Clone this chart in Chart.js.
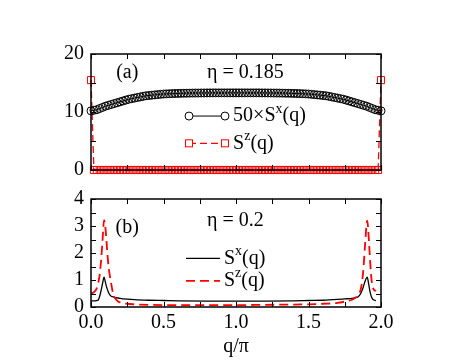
<!DOCTYPE html>
<html>
<head>
<meta charset="utf-8">
<script src="https://cdn.jsdelivr.net/npm/chart.js@4/dist/chart.umd.min.js"></script>
<style>
  body { margin: 0; background: #fff; }
  #wrap { position: relative; width: 469px; height: 362px; }
  canvas { position: absolute; left: 0; }
  #top { top: 0; }
  #bot { top: 180px; }
</style>
</head>
<body>
<div id="wrap">
  <canvas id="top" width="469" height="189"></canvas>
  <canvas id="bot" width="469" height="182"></canvas>
</div>
<script>
'use strict';
// panel (a): eta = 0.185
const qTop = [0, 0.02, 0.04, 0.06, 0.08, 0.1, 0.12, 0.14, 0.16, 0.18,
  0.2, 0.22, 0.24, 0.26, 0.28, 0.3, 0.32, 0.34, 0.36, 0.38,
  0.4, 0.42, 0.44, 0.46, 0.48, 0.5, 0.52, 0.54, 0.56, 0.58,
  0.6, 0.62, 0.64, 0.66, 0.68, 0.7, 0.72, 0.74, 0.76, 0.78,
  0.8, 0.82, 0.84, 0.86, 0.88, 0.9, 0.92, 0.94, 0.96, 0.98,
  1.0, 1.02, 1.04, 1.06, 1.08, 1.1, 1.12, 1.14, 1.16, 1.18,
  1.2, 1.22, 1.24, 1.26, 1.28, 1.3, 1.32, 1.34, 1.36, 1.38,
  1.4, 1.42, 1.44, 1.46, 1.48, 1.5, 1.52, 1.54, 1.56, 1.58,
  1.6, 1.62, 1.64, 1.66, 1.68, 1.7, 1.72, 1.74, 1.76, 1.78,
  1.8, 1.82, 1.84, 1.86, 1.88, 1.9, 1.92, 1.94, 1.96, 1.98, 2.0];
// 50 x S^x(q)
const sxTop = [10.2, 10.3, 10.4, 10.6, 10.8, 11.0, 11.15, 11.3, 11.45, 11.6,
  11.75, 11.9, 12.05, 12.2, 12.3, 12.4, 12.5, 12.6, 12.7, 12.8,
  12.85, 12.9, 12.95, 13.0, 13.05, 13.1, 13.12, 13.15, 13.17, 13.19,
  13.2, 13.22, 13.23, 13.24, 13.25, 13.26, 13.27, 13.27, 13.28, 13.28,
  13.29, 13.29, 13.3, 13.3, 13.3, 13.3, 13.3, 13.3, 13.3, 13.3,
  13.3, 13.3, 13.3, 13.3, 13.3, 13.3, 13.3, 13.3, 13.3, 13.29,
  13.29, 13.28, 13.28, 13.27, 13.27, 13.26, 13.25, 13.24, 13.23, 13.22,
  13.2, 13.19, 13.17, 13.15, 13.12, 13.1, 13.05, 13.0, 12.95, 12.9,
  12.85, 12.8, 12.7, 12.6, 12.5, 12.4, 12.3, 12.2, 12.05, 11.9,
  11.75, 11.6, 11.45, 11.3, 11.15, 11.0, 10.8, 10.6, 10.4, 10.3, 10.2];
// S^z(q)
const szTop = [15.5, 0, 0, 0, 0, 0, 0, 0, 0, 0,
  0, 0, 0, 0, 0, 0, 0, 0, 0, 0,
  0, 0, 0, 0, 0, 0, 0, 0, 0, 0,
  0, 0, 0, 0, 0, 0, 0, 0, 0, 0,
  0, 0, 0, 0, 0, 0, 0, 0, 0, 0,
  0, 0, 0, 0, 0, 0, 0, 0, 0, 0,
  0, 0, 0, 0, 0, 0, 0, 0, 0, 0,
  0, 0, 0, 0, 0, 0, 0, 0, 0, 0,
  0, 0, 0, 0, 0, 0, 0, 0, 0, 0,
  0, 0, 0, 0, 0, 0, 0, 0, 0, 0, 15.5];

// panel (b): eta = 0.2
const qBot = [0, 0.02, 0.03, 0.04, 0.05, 0.06, 0.07, 0.08, 0.09, 0.1,
  0.11, 0.12, 0.13, 0.14, 0.15, 0.16, 0.18, 0.2, 0.25, 0.3,
  0.4, 0.5, 0.6, 0.8, 1.0, 1.2, 1.4, 1.5, 1.6, 1.7,
  1.75, 1.8, 1.82, 1.84, 1.85, 1.86, 1.87, 1.88, 1.89, 1.905,
  1.915, 1.925, 1.935, 1.945, 1.965];
const sxBot = [0.22, 0.23, 0.23, 0.24, 0.26, 0.4, 0.62, 0.88, 1.11, 0.9,
  0.7, 0.55, 0.45, 0.4, 0.38, 0.36, 0.34, 0.32, 0.29, 0.27,
  0.25, 0.24, 0.23, 0.22, 0.22, 0.22, 0.23, 0.24, 0.25, 0.28,
  0.3, 0.32, 0.34, 0.37, 0.42, 0.5, 0.62, 0.78, 0.95, 1.11,
  0.85, 0.55, 0.36, 0.28, 0.24];
const szBot = [0.5, 0.55, 0.6, 0.7, 0.9, 1.2, 1.75, 2.5, 3.22, 2.9,
  2.2, 1.55, 1.15, 0.85, 0.55, 0.38, 0.24, 0.17, 0.12, 0.1,
  0.08, 0.07, 0.07, 0.07, 0.07, 0.08, 0.09, 0.1, 0.12, 0.15,
  0.2, 0.27, 0.33, 0.42, 0.5, 0.65, 0.95, 1.5, 2.3, 3.2,
  2.6, 1.7, 1.0, 0.7, 0.59];

const xTicks = [0, 0.25, 0.5, 0.75, 1, 1.25, 1.5, 1.75, 2];
const yTicksTop = [0, 5, 10, 15, 20];
const yTicksBot = [0, 0.5, 1, 1.5, 2, 2.5, 3, 3.5, 4];

const FONT = 'Liberation Serif';
const RED = '#ff0000';

function pts(xs, ys) {
  return xs.map((x, i) => ({ x: x, y: ys[i] }));
}

// text with superscript pieces
function drawRich(ctx, parts, x, y) {
  ctx.textBaseline = 'middle';
  ctx.textAlign = 'left';
  for (const p of parts) {
    ctx.font = (p.sup ? 14 : 20) + 'px ' + FONT;
    ctx.fillText(p.t, x, p.sup ? y - 7 : y);
    x += ctx.measureText(p.t).width;
  }
}

const decoPlugin = {
  id: 'deco',
  afterDraw(chart) {
    const cfg = chart.options.plugins.deco;
    const ctx = chart.ctx;
    const a = chart.chartArea;
    const xs = chart.scales.x;
    const ys = chart.scales.y;
    ctx.save();
    ctx.strokeStyle = '#000';
    ctx.fillStyle = '#000';
    // inward ticks on all four sides
    ctx.lineWidth = 1;
    ctx.beginPath();
    for (const v of xTicks) {
      const px = Math.round(xs.getPixelForValue(v)) + 0.5;
      ctx.moveTo(px, a.bottom); ctx.lineTo(px, a.bottom - 5);
      ctx.moveTo(px, a.top); ctx.lineTo(px, a.top + 5);
    }
    for (const v of cfg.yTicks) {
      const py = Math.round(ys.getPixelForValue(v)) + 0.5;
      ctx.moveTo(a.left, py); ctx.lineTo(a.left + 5, py);
      ctx.moveTo(a.right, py); ctx.lineTo(a.right - 5, py);
    }
    ctx.stroke();
    ctx.lineWidth = 1.5;
    ctx.strokeRect(a.left, a.top, a.right - a.left, a.bottom - a.top);

    // panel labels
    ctx.font = '20px ' + FONT;
    ctx.textBaseline = 'middle';
    ctx.textAlign = 'center';
    ctx.fillText(cfg.tag, xs.getPixelForValue(cfg.tagAt[0]), ys.getPixelForValue(cfg.tagAt[1]));
    ctx.textAlign = 'left';
    ctx.fillText(cfg.eta, xs.getPixelForValue(cfg.etaAt[0]), ys.getPixelForValue(cfg.etaAt[1]));

    // legend
    for (const item of cfg.legend) {
      const x1 = xs.getPixelForValue(cfg.legendX[0]);
      const x2 = xs.getPixelForValue(cfg.legendX[1]);
      const y = ys.getPixelForValue(item.y);
      ctx.strokeStyle = item.color;
      ctx.lineWidth = item.width;
      ctx.setLineDash(item.dash || []);
      ctx.beginPath();
      ctx.moveTo(x1, y); ctx.lineTo(x2, y);
      ctx.stroke();
      ctx.setLineDash([]);
      ctx.lineWidth = 1;
      if (item.marker === 'circle') {
        for (const px of [x1, x2]) {
          ctx.fillStyle = '#fff';
          ctx.beginPath(); ctx.arc(px, y, 4, 0, Math.PI * 2); ctx.fill(); ctx.stroke();
        }
      } else if (item.marker === 'rect') {
        for (const px of [x1, x2]) {
          ctx.fillStyle = '#fff';
          ctx.fillRect(px - 3.5, y - 3.5, 7, 7);
          ctx.strokeRect(px - 3.5, y - 3.5, 7, 7);
        }
      }
      ctx.fillStyle = '#000';
      drawRich(ctx, item.text, xs.getPixelForValue(cfg.legendText), y);
    }
    if (cfg.xTitle) {
      ctx.font = '20px ' + FONT;
      ctx.textAlign = 'center';
      ctx.textBaseline = 'middle';
      ctx.fillText(cfg.xTitle, (a.left + a.right) / 2, a.bottom + 40);
    }
    ctx.restore();
  }
};

function baseScales(yMax, yStep, showX) {
  return {
    x: {
      type: 'linear', min: 0, max: 2, display: showX,
      grid: { display: false, drawTicks: false },
      border: { display: false },
      ticks: {
        stepSize: 0.5, color: '#000', padding: 4,
        font: { family: FONT, size: 20 },
        callback: v => v.toFixed(1)
      },
      afterFit: s => { s.height = showX ? 55 : 0; }
    },
    y: {
      min: 0, max: yMax,
      grid: { display: false, drawTicks: false },
      border: { display: false },
      ticks: {
        stepSize: yStep, color: '#000', padding: 7,
        font: { family: FONT, size: 20 }
      },
      afterFit: s => { s.width = 91; }
    }
  };
}

new Chart(document.getElementById('top'), {
  type: 'scatter',
  data: {
    datasets: [
      {
        data: pts(qTop, sxTop), showLine: true, clip: false,
        borderColor: '#000', borderWidth: 1,
        pointStyle: 'circle', pointRadius: 4, pointBorderWidth: 1,
        pointBorderColor: '#000', pointBackgroundColor: 'rgba(0,0,0,0)'
      },
      {
        data: pts(qTop, szTop), showLine: true, clip: false,
        borderColor: RED, borderWidth: 1.3, borderDash: [7, 4],
        pointStyle: 'rect', pointRadius: 5, pointBorderWidth: 1,
        pointBorderColor: RED, pointBackgroundColor: 'rgba(0,0,0,0)'
      }
    ]
  },
  options: {
    responsive: false, animation: false, devicePixelRatio: 1,
    layout: { padding: { top: 54, bottom: 1, left: 0, right: 88 } },
    scales: baseScales(20, 10, false),
    plugins: {
      legend: { display: false }, tooltip: { enabled: false },
      deco: {
        yTicks: yTicksTop,
        tag: '(a)', tagAt: [0.25, 16.75],
        eta: 'η = 0.185', etaAt: [0.8, 16.75],
        legendX: [0.676, 0.924], legendText: 0.98,
        legend: [
          { y: 9.3, color: '#000', width: 1, marker: 'circle',
            text: [{ t: '50×S' }, { t: 'x', sup: true }, { t: '(q)' }] },
          { y: 4.6, color: RED, width: 1.3, dash: [7, 4], marker: 'rect',
            text: [{ t: 'S' }, { t: 'z', sup: true }, { t: '(q)' }] }
        ]
      }
    }
  },
  plugins: [decoPlugin]
});

new Chart(document.getElementById('bot'), {
  type: 'scatter',
  data: {
    datasets: [
      {
        data: pts(qBot, szBot), showLine: true,
        borderColor: RED, borderWidth: 1.8, borderDash: [9, 5],
        pointRadius: 0, cubicInterpolationMode: 'monotone'
      },
      {
        data: pts(qBot, sxBot), showLine: true,
        borderColor: '#000', borderWidth: 1.3,
        pointRadius: 0, cubicInterpolationMode: 'monotone'
      }
    ]
  },
  options: {
    responsive: false, animation: false, devicePixelRatio: 1,
    layout: { padding: { top: 12, bottom: 0, left: 0, right: 88 } },
    scales: baseScales(4, 1, true),
    plugins: {
      legend: { display: false }, tooltip: { enabled: false },
      deco: {
        yTicks: yTicksBot,
        tag: '(b)', tagAt: [0.25, 2.95],
        eta: 'η = 0.2', etaAt: [0.8, 3.2],
        legendX: [0.655, 0.89], legendText: 0.917,
        legend: [
          { y: 1.8, color: '#000', width: 1.3,
            text: [{ t: 'S' }, { t: 'x', sup: true }, { t: '(q)' }] },
          { y: 0.97, color: RED, width: 1.8, dash: [9, 5],
            text: [{ t: 'S' }, { t: 'z', sup: true }, { t: '(q)' }] }
        ],
        xTitle: 'q/π'
      }
    }
  },
  plugins: [decoPlugin]
});
</script>
</body>
</html>
